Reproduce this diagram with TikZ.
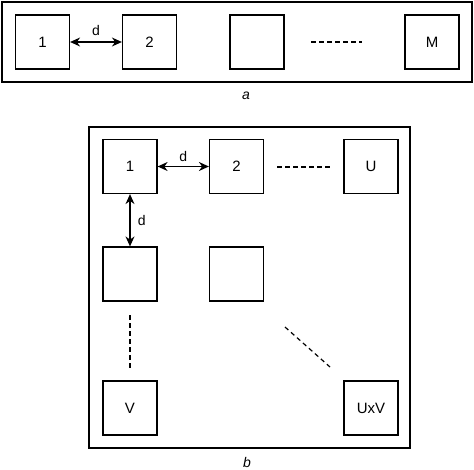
\documentclass[tikz,border=0pt]{standalone}
\usepackage{fontspec}
\setmainfont{Liberation Sans}
\usetikzlibrary{arrows.meta}
\begin{document}
\begin{tikzpicture}[x=1pt,y=-1pt,
  cell/.style={draw,line width=1.2pt,minimum width=54pt,minimum height=54pt,inner sep=0pt,font=\fontsize{15}{17}\selectfont},
  frame/.style={draw,line width=1.5pt},
  dots/.style={line width=1.2pt,dash pattern=on 4.5pt off 3.5pt},
  dist/.style={{Stealth[length=10pt,width=9pt]}-{Stealth[length=10pt,width=9pt]},line width=1.3pt},
  lbl/.style={font=\fontsize{14}{16}\selectfont},
  captxt/.style={font=\itshape\fontsize{14}{16}\selectfont}]
\useasboundingbox (0,0) rectangle (474,469);
% part a
\draw[frame,line width=2.4pt] (2,2) rectangle (472,82);
\node[cell] (a1) at (42.5,42) {1};
\node[cell] (a2) at (149.5,42) {2};
\node[cell] (a3) at (257,42) {};
\node[cell] (aM) at (432,42) {M};
\coordinate (ad1) at (311,42);
\coordinate (ad2) at (362,42);
\draw[dots] (ad1) -- (ad2);
\draw[dist] (a1) -- node[lbl,above=2pt] {d} (a2);
\node[captxt] (capa) at (246,96) {a};
% part b
\draw[frame] (89,127) rectangle (410,448);
\node[cell] (b11) at (130,166.5) {1};
\node[cell] (b12) at (236.5,166.5) {2};
\node[cell] (b1U) at (371,166.5) {U};
\node[cell] (b21) at (130,274) {};
\node[cell] (b22) at (236.5,274) {};
\node[cell] (bV) at (130,408) {V};
\node[cell] (bUV) at (371,408) {UxV};
\draw[dist] (b11) -- node[lbl,above=1pt] {d} (b12);
\draw[dist] (b11) -- node[lbl,right=4pt] {d} (b21);
\coordinate (bh1) at (277,167);
\coordinate (bh2) at (330,167);
\draw[dots] (bh1) -- (bh2);
\coordinate (bv1) at (130,315);
\coordinate (bv2) at (130,368);
\draw[dots] (bv1) -- (bv2);
\coordinate (bd1) at (285,327);
\coordinate (bd2) at (330,367);
\draw[dots] (bd1) -- (bd2);
\node[captxt] (capb) at (247,462) {b};
\end{tikzpicture}
\end{document}
